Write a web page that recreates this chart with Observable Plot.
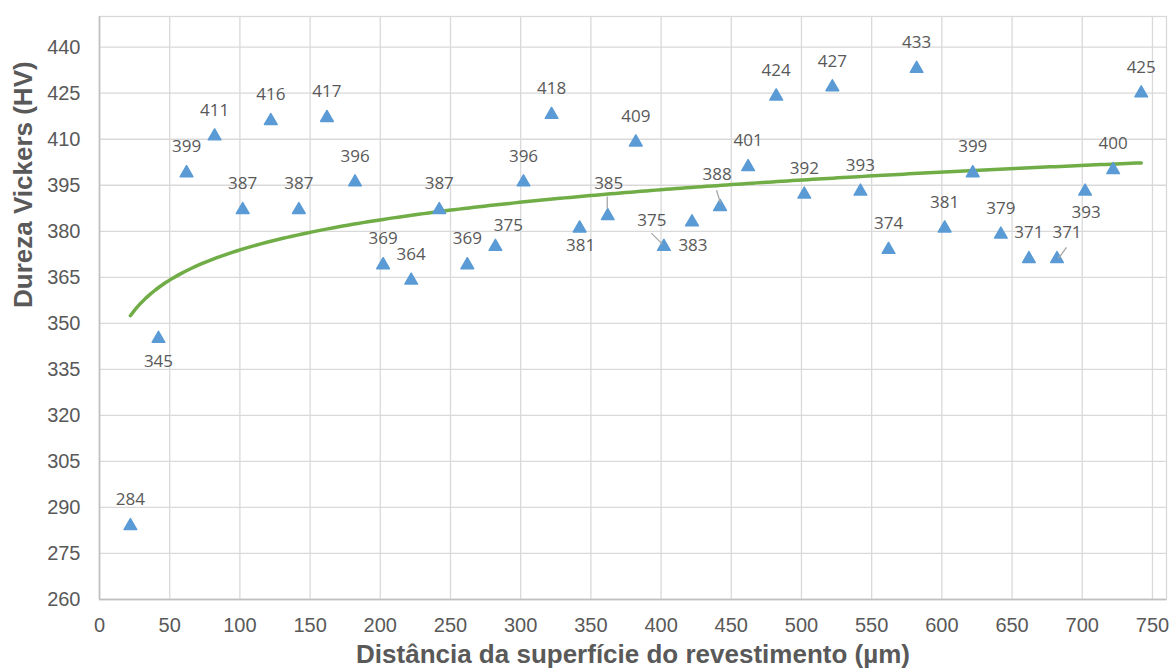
<!DOCTYPE html>
<html><head><meta charset="utf-8">
<script src="https://cdn.jsdelivr.net/npm/d3@7"></script>
<script src="https://cdn.jsdelivr.net/npm/@observablehq/plot@0.6"></script>
<style>
html,body{margin:0;padding:0;background:#fff;}
#chart svg{display:block;}
</style></head><body><div id="chart"></div>
<script>
// ---- data ----
const distance = [22,42,62,82,102,122,142,162,182,202,222,242,262,282,302,322,342,362,382,402,422,442,462,482,502,522,542,562,582,602,622,642,662,682,702,722,742];
const hardness = [284,345,399,411,387,416,387,417,396,369,364,387,369,375,396,418,381,385,409,375,383,388,401,424,392,427,393,374,433,381,399,379,371,371,393,400,425];
const xTicks = [0,50,100,150,200,250,300,350,400,450,500,550,600,650,700,750];
const yTicks = [260,275,290,305,320,335,350,365,380,395,410,425,440];
const xTitle = "Distância da superfície do revestimento (µm)";
const yTitle = "Dureza Vickers (HV)";

// ---- derived ----
const points = distance.map((x, i) => ({x, y: hardness[i]}));
// logarithmic trend line fitted (least squares) to the data, drawn over the data's x extent
const lx = distance.map(Math.log);
const mx = d3.mean(lx), my = d3.mean(hardness);
const b = d3.sum(lx, (v, i) => (v - mx) * (hardness[i] - my)) / d3.sum(lx, v => (v - mx) ** 2);
const a = my - b * mx;
const [xMin, xMax] = d3.extent(distance);
const trendX = d3.range(0, 201).map(k => xMin + (xMax - xMin) * k / 200);
const trend = trendX.map(x => ({x, y: a + b * Math.log(x)}));

// ---- label placement (styling, pixels) ----
const labelOffsets = new Map([
  [1, [0, 23]], [13, [13, -21]], [16, [1, 17]], [17, [1, -32]],
  [19, [-12, -26]], [20, [1, 23]], [21, [-3, -32]], [33, [10, -26]], [34, [1, 21]]
]);
const leaders = [ // index, x1,y1,x2,y2 offsets from the point (px)
  [17, 0, -19, 0, -7],
  [19, -12, -13, -1, -2],
  [21, -3, -16, 1, -3],
  [33, 2, 0, 10, -11]
];

const labelFont = "'Open Sans', 'Noto Sans', sans-serif";
const labelMarks = points.map((d, i) => {
  const [dx, dy] = labelOffsets.get(i) ?? [0, -26];
  return Plot.text([d], {x: "x", y: "y", text: p => String(p.y), dx, dy,
    fontSize: 17, fill: "#595959", fontFamily: labelFont});
});

const plot = Plot.plot({
  width: 1173, height: 670,
  marginLeft: 99, marginRight: 7, marginTop: 16, marginBottom: 71,
  x: {domain: [0, 760]},
  y: {domain: [260, 450]},
  style: {fontFamily: "'Liberation Sans', Arial, sans-serif", fontSize: "20px", color: "#595959", background: "#fff"},
  marks: [
    Plot.gridX(xTicks, {stroke: "#d9d9d9", strokeOpacity: 1, strokeWidth: 1.3}),
    Plot.gridY(yTicks, {stroke: "#d9d9d9", strokeOpacity: 1, strokeWidth: 1.3}),
    Plot.frame({stroke: "#d9d9d9", strokeWidth: 1.3}),
    Plot.ruleX([0], {stroke: "#bfbfbf", strokeWidth: 1.5}),
    Plot.ruleY([260], {stroke: "#bfbfbf", strokeWidth: 1.5}),
    Plot.axisX(xTicks, {tickSize: 0, tickPadding: 18, label: null, fontSize: 20, fill: "#595959"}),
    Plot.axisY(yTicks, {tickSize: 0, tickPadding: 19, label: null, fontSize: 20, fill: "#595959"}),
    Plot.line(trend, {x: "x", y: "y", stroke: "#70ad47", strokeWidth: 3.5}),
    Plot.dot(points, {x: "x", y: "y", symbol: "triangle", r: 4.7, fill: "#5b9bd5", stroke: "#5b9bd5", strokeWidth: 1.5, strokeLinejoin: "round"}),
    ...labelMarks,
    Plot.text([xTitle], {frameAnchor: "bottom", dy: 63, text: d => d, fontWeight: "bold", fontSize: 26, fill: "#595959"}),
    Plot.text([yTitle], {frameAnchor: "left", dx: -76, rotate: -90, text: d => d, fontWeight: "bold", fontSize: 26, fill: "#595959"})
  ]
});

// leader lines for displaced labels, positioned with the plot's own scales
const sx = plot.scale("x"), sy = plot.scale("y");
const g = d3.select(plot).append("g").attr("aria-label", "leader lines");
leaders.forEach(([i, x1, y1, x2, y2]) => {
  const cx = sx.apply(distance[i]), cy = sy.apply(hardness[i]);
  g.append("line")
    .attr("x1", cx + x1).attr("y1", cy + y1)
    .attr("x2", cx + x2).attr("y2", cy + y2)
    .attr("stroke", "#a6a6a6").attr("stroke-width", 1.3);
});

document.getElementById("chart").appendChild(plot);
</script>
</body></html>
